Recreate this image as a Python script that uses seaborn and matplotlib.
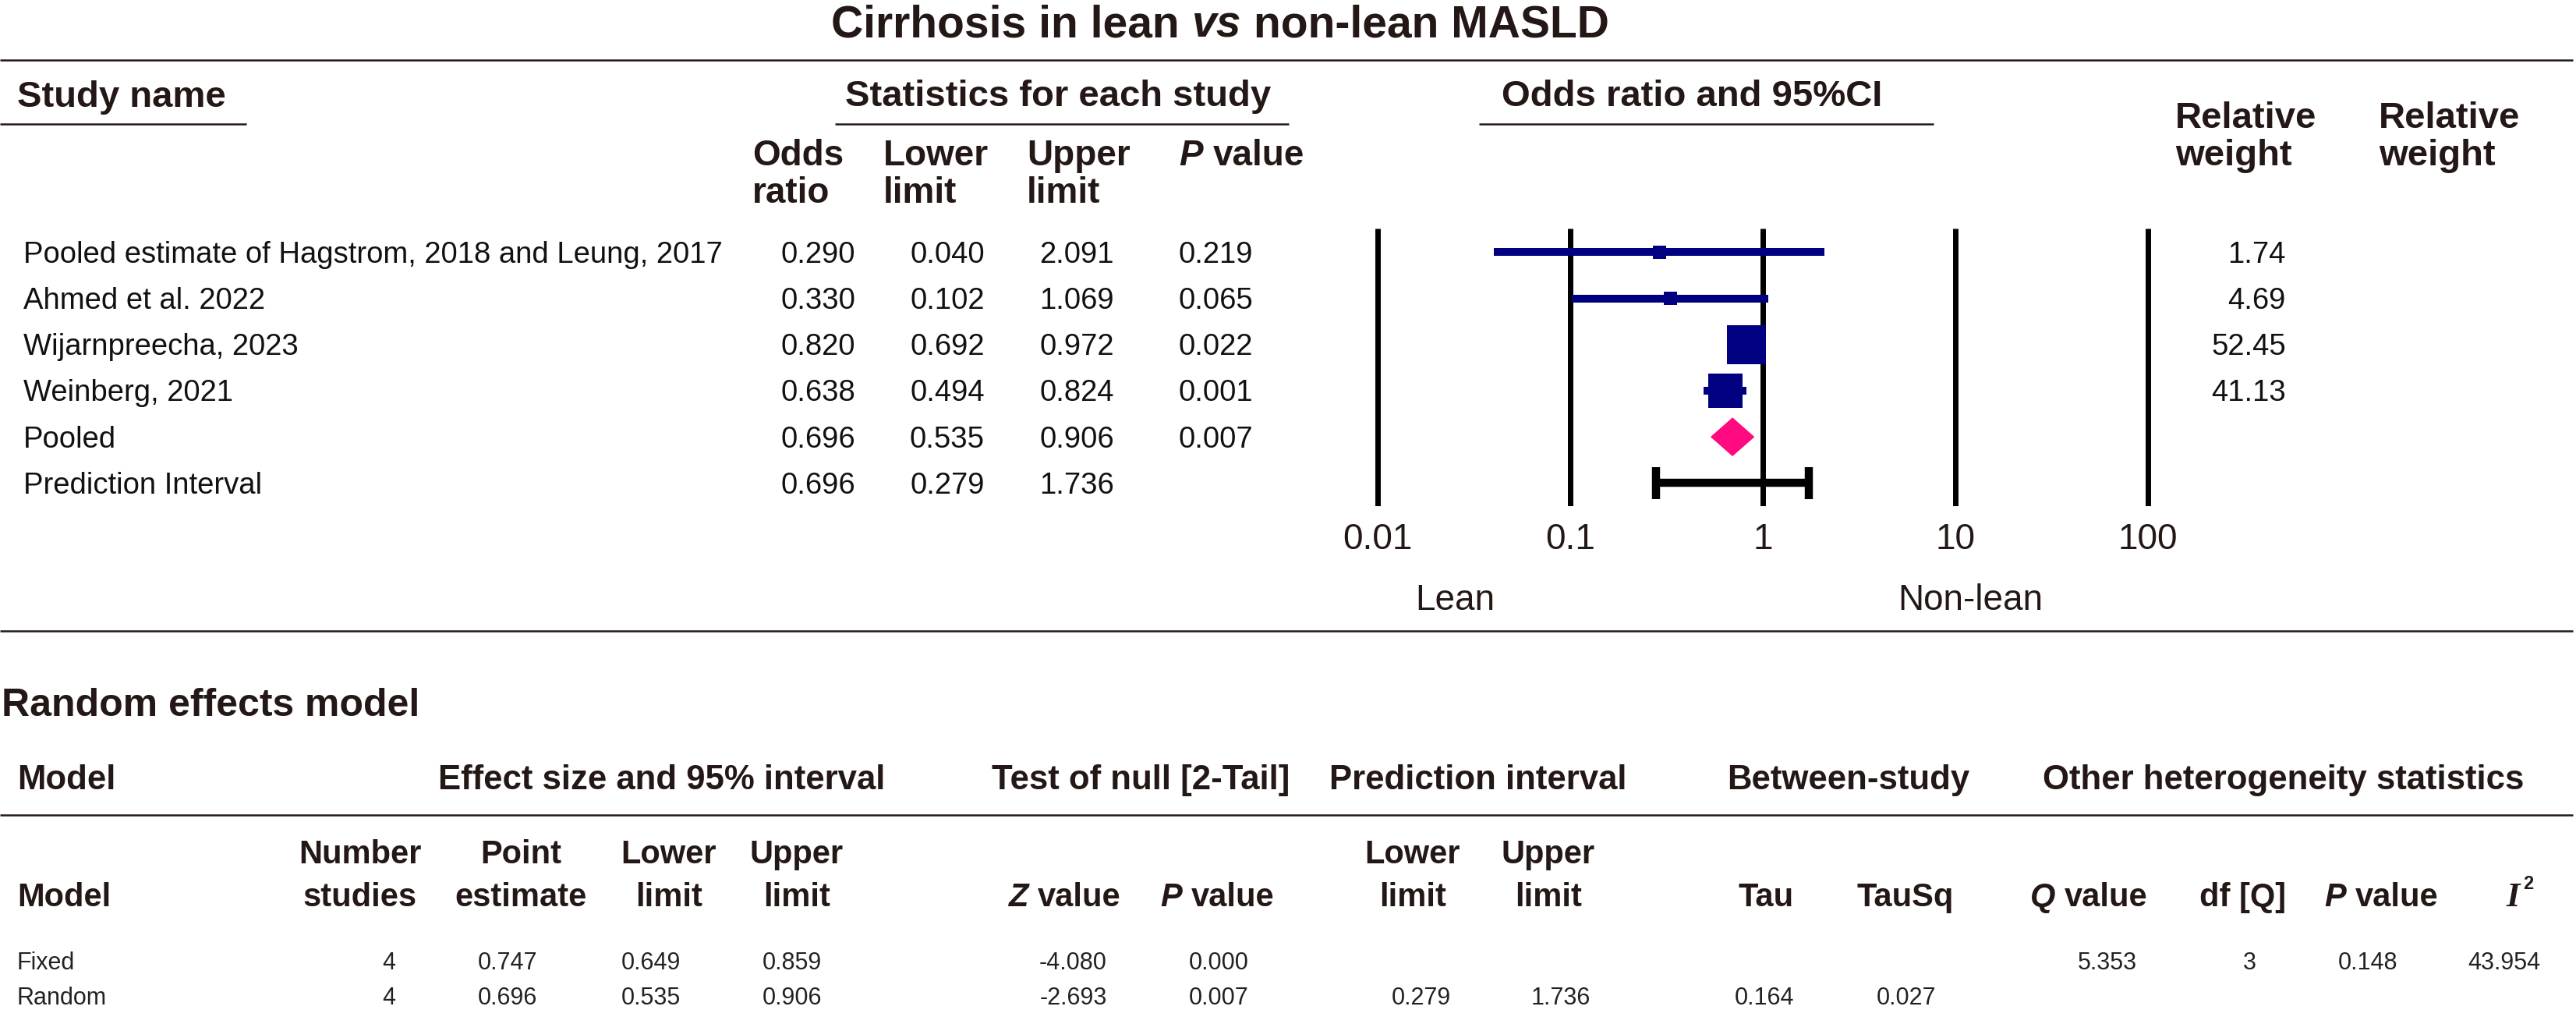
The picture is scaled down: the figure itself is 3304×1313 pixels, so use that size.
import numpy as np
import pandas as pd
import matplotlib.pyplot as plt
import matplotlib.transforms as mtransforms
from matplotlib.ticker import NullLocator
import seaborn as sns

W, H = 3305, 1313
HEAD = "#231815"
TXT = "#111111"
NAVY = "#000080"
PINK = "#FF0A80"

# ---- study level data ----
study_names = [
    "Pooled estimate of Hagstrom, 2018 and Leung, 2017",
    "Ahmed et al. 2022",
    "Wijarnpreecha, 2023",
    "Weinberg, 2021",
    "Pooled",
    "Prediction Interval",
]
odds_ratio = [0.290, 0.330, 0.820, 0.638, 0.696, 0.696]
lower_limit = [0.040, 0.102, 0.692, 0.494, 0.535, 0.279]
upper_limit = [2.091, 1.069, 0.972, 0.824, 0.906, 1.736]
p_value = [0.219, 0.065, 0.022, 0.001, 0.007, None]
rel_weight = [1.74, 4.69, 52.45, 41.13]
ticks = [0.01, 0.1, 1, 10, 100]
tick_labels = ["0.01", "0.1", "1", "10", "100"]

# ---- random effects model table ----
model_names = ["Fixed", "Random"]
n_studies = [4, 4]
point_est = [0.747, 0.696]
model_lower = [0.649, 0.535]
model_upper = [0.859, 0.906]
z_value = [-4.080, -2.693]
model_p = [0.000, 0.007]
pred_lower = [None, 0.279]
pred_upper = [None, 1.736]
tau = [None, 0.164]
tau_sq = [None, 0.027]
q_value = [5.353, None]
df_q = [3, None]
het_p = [0.148, None]
i_sq = [43.954, None]

sns.set_theme(style="white")
plt.rcParams["font.family"] = ["Liberation Sans", "DejaVu Sans"]

fig = plt.figure(figsize=(W / 100, H / 100), dpi=100)
fig.patch.set_facecolor("white")

# background axes in pixel coordinates (y down) for the table parts
bg = fig.add_axes([0, 0, 1, 1])
bg.set_xlim(0, W)
bg.set_ylim(H, 0)
bg.axis("off")

renderer = fig.canvas.get_renderer()


def text_w(s, size, weight="bold", style="normal"):
    t = bg.text(0, 0, s, fontsize=size, fontweight=weight, fontstyle=style)
    w = t.get_window_extent(renderer).width
    t.remove()
    return w


def rich(x, y, tokens, size, ha="left", color=HEAD, weight="bold"):
    # tokens joined by single spaces, each with its own font style
    sp = text_w("a a", size, weight) - text_w("aa", size, weight)
    objs = [bg.text(0, y, s, fontsize=size, fontweight=weight, fontstyle=st,
                    color=color, va="baseline", ha="left") for s, st in tokens]
    widths = [o.get_window_extent(renderer).width for o in objs]
    total = sum(widths) + sp * (len(objs) - 1)
    start = {"left": x, "center": x - total / 2, "right": x - total}[ha]
    for o, w in zip(objs, widths):
        o.set_x(start)
        start += w + sp


def head(x, y, s, size, ha="left", weight="bold"):
    bg.text(x, y, s, fontsize=size, fontweight=weight, color=HEAD,
            va="baseline", ha=ha)


def fmt(v, nd=3):
    if v is None:
        return ""
    if isinstance(v, int):
        return str(v)
    return f"{v:.{nd}f}"


# ---- title and header rules ----
rich(1565, 48, [("Cirrhosis in lean", "normal"), ("vs", "italic"),
                ("non-lean MASLD", "normal")], 41, ha="center")
bg.hlines(77, 0, 3300, color=HEAD, lw=1.8)

head(22, 137, "Study name", 34)
head(1084, 136, "Statistics for each study", 34)
head(1926, 136, "Odds ratio and 95%CI", 34)
bg.hlines([159, 159, 159], [0, 1071, 1897], [316, 1653, 2480], color=HEAD, lw=1.8)

head(965, 212, "Odds", 33)
head(965, 260, "ratio", 33)
head(1133, 212, "Lower", 33)
head(1133, 260, "limit", 33)
head(1317, 212, "Upper", 33)
head(1317, 260, "limit", 33)
rich(1512, 212, [("P", "italic"), ("value", "normal")], 33)
for x in [2790, 3051]:
    head(x, 164, "Relative", 34)
    head(x, 212, "weight", 34)

# ---- forest plot ----
fax = fig.add_axes([1700 / W, 1 - 649 / H, 1130 / W, (649 - 293) / H])
fax.set_facecolor("none")

rows = np.arange(len(study_names))
df = pd.DataFrame({
    "study": study_names[:4],
    "odds": odds_ratio[:4],
    "lo": lower_limit[:4],
    "hi": upper_limit[:4],
    "row": rows[:4],
    "weight": rel_weight,
})

for t in ticks:
    fax.axvline(t, color="black", lw=5.0, solid_capstyle="butt", zorder=1)

fax.hlines(df["row"], df["lo"], df["hi"], color=NAVY, lw=7.2,
           capstyle="butt", zorder=2)
side_px = np.maximum(17, 50 * np.sqrt(df["weight"] / df["weight"].max()))
sizes = dict(zip(df["study"], (side_px * 0.72) ** 2))
sns.scatterplot(data=df, x="odds", y="row", size="study", sizes=sizes,
                marker="s", color=NAVY, linewidth=0, legend=False,
                ax=fax, zorder=3)

# pooled diamond
r = rows[4]
h = 0.42
fax.fill([lower_limit[4], odds_ratio[4], upper_limit[4], odds_ratio[4]],
         [r, r - h, r, r + h], color=PINK, lw=0, zorder=3)

# prediction interval
r = rows[5]
fax.hlines(r, lower_limit[5], upper_limit[5], color="black", lw=7.5,
           capstyle="butt", zorder=2)
fax.vlines([lower_limit[5], upper_limit[5]], r - 0.35, r + 0.35,
           color="black", lw=7.5, capstyle="butt", zorder=2)

fax.set_xscale("log")
fax.set_xlim(10 ** ((1700 - 2261) / 247), 10 ** ((2830 - 2261) / 247))
fax.set_ylim(5.50, -0.512)
fax.set_xticks(ticks, labels=tick_labels)
fax.xaxis.set_minor_locator(NullLocator())
fax.set_yticks([])
fax.tick_params(axis="x", length=0, pad=15, labelsize=33, colors=HEAD)
fax.set_xlabel("")
fax.set_ylabel("")
fax.grid(False)
for s in fax.spines.values():
    s.set_visible(False)

head(1866, 782, "Lean", 33, ha="center", weight="normal")
head(2527, 782, "Non-lean", 33, ha="center", weight="normal")

# ---- study rows (text) ----
blend = mtransforms.blended_transform_factory(bg.transData, fax.transData)
row_tr = mtransforms.offset_copy(blend, x=0, y=-13.5, units="dots")
for i, name in enumerate(study_names):
    bg.text(30, rows[i], name, transform=row_tr, fontsize=27.5, color=TXT,
            va="baseline", ha="left")
    vals = [odds_ratio[i], lower_limit[i], upper_limit[i], p_value[i]]
    for xr, v in zip([1097, 1263, 1429, 1607], vals):
        bg.text(xr, rows[i], fmt(v), transform=row_tr, fontsize=27.5,
                color=TXT, va="baseline", ha="right")
    if i < len(rel_weight):
        bg.text(2932, rows[i], fmt(rel_weight[i], 2), transform=row_tr,
                fontsize=27.5, color=TXT, va="baseline", ha="right")

# ---- random effects model table ----
bg.hlines(809, 0, 3300, color=HEAD, lw=1.8)
head(2, 918, "Random effects model", 36)

head(22, 1012, "Model", 31.5)
head(849, 1012, "Effect size and 95% interval", 31.5, ha="center")
head(1463, 1012, "Test of null [2-Tail]", 31.5, ha="center")
head(1896, 1012, "Prediction interval", 31.5, ha="center")
head(2371, 1012, "Between-study", 31.5, ha="center")
head(2929, 1012, "Other heterogeneity statistics", 31.5, ha="center")
bg.hlines(1045, 0, 3300, color=HEAD, lw=1.8)

head(22, 1162, "Model", 30)
two_line = [(462, "Number", "studies"), (668, "Point", "estimate"),
            (858, "Lower", "limit"), (1022, "Upper", "limit"),
            (1812, "Lower", "limit"), (1986, "Upper", "limit")]
for xc, l1, l2 in two_line:
    head(xc, 1107, l1, 30, ha="center")
    head(xc, 1162, l2, 30, ha="center")
head(2265, 1162, "Tau", 30, ha="center")
head(2444, 1162, "TauSq", 30, ha="center")
head(2877, 1162, "df [Q]", 30, ha="center")
rich(1366, 1162, [("Z", "italic"), ("value", "normal")], 30, ha="center")
rich(1561, 1162, [("P", "italic"), ("value", "normal")], 30, ha="center")
rich(2679, 1162, [("Q", "italic"), ("value", "normal")], 30, ha="center")
rich(3054, 1162, [("P", "italic"), ("value", "normal")], 30, ha="center")
bg.text(3223, 1162, "I", fontsize=32, fontweight="bold", fontstyle="italic",
        family=["Liberation Serif", "DejaVu Serif"], color=HEAD,
        va="baseline", ha="center")
bg.text(3236, 1140, "2", fontsize=17, fontweight="bold", color=HEAD,
        va="baseline", ha="left")

value_cols = [n_studies, point_est, model_lower, model_upper, z_value, model_p,
              pred_lower, pred_upper, tau, tau_sq, q_value, df_q, het_p, i_sq]
value_right = [507, 689, 873, 1054, 1420, 1602, 1861, 2040, 2301, 2483,
               2741, 2894, 3075, 3258]
for j, (name, yb) in enumerate(zip(model_names, [1243, 1288])):
    bg.text(22, yb, name, fontsize=22, color="#222222", va="baseline")
    for xr, col in zip(value_right, value_cols):
        bg.text(xr, yb, fmt(col[j]), fontsize=22, color="#222222",
                va="baseline", ha="right")

fig.savefig("out.png", dpi=100, facecolor="white")
